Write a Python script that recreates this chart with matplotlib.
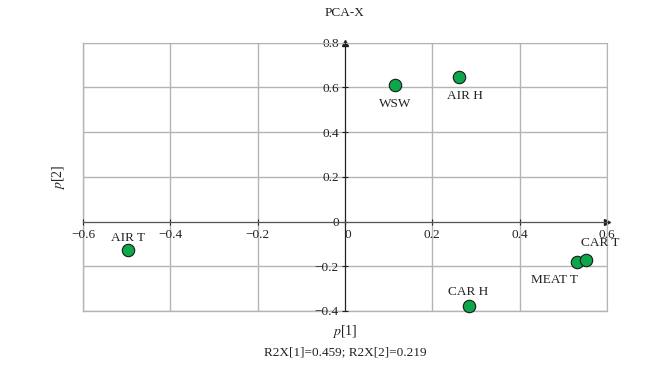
import matplotlib
matplotlib.use("Agg")
import matplotlib.pyplot as plt

plt.rcParams['font.family'] = ['Liberation Serif', 'DejaVu Serif']
plt.rcParams['mathtext.fontset'] = 'stix'

# scores
names = ["WSW", "AIR H", "AIR T", "CAR H", "MEAT T", "CAR T"]
p1 = [0.115, 0.262, -0.496, 0.283, 0.531, 0.553]
p2 = [0.610, 0.646, -0.128, -0.379, -0.180, -0.171]
xticks = [-0.6, -0.4, -0.2, 0, 0.2, 0.4, 0.6]
yticks = [-0.4, -0.2, 0, 0.2, 0.4, 0.6, 0.8]

# label offsets in points (dx, dy, ha, va)
offs = {
    "WSW": (0, -9, "center", "top"),
    "AIR H": (4, -9, "center", "top"),
    "AIR T": (0, 4.5, "center", "bottom"),
    "CAR H": (0, 6, "center", "bottom"),
    "MEAT T": (-16, -9, "center", "top"),
    "CAR T": (10, 8, "center", "bottom"),
}

fig = plt.figure(figsize=(6.67, 3.67), dpi=100)
ax = fig.add_axes([0.1244, 0.1526, 0.7856, 0.7311])
ax.set_xlim(-0.6, 0.6)
ax.set_ylim(-0.4, 0.8)
ax.set_xticks(xticks)
ax.set_yticks(yticks)
ax.set_xticklabels([("%g" % t).replace("-", "\u2212") for t in xticks])
ax.set_yticklabels([("%g" % t).replace("-", "\u2212") for t in yticks])
ax.grid(True, color="#b4b4b4", linewidth=1.0)
ax.set_axisbelow(True)
# outer frame
ax.axhline(-0.4, color="#b4b4b4", linewidth=1.0, clip_on=False, zorder=0.5)
ax.axvline(-0.6, color="#b4b4b4", linewidth=1.0, clip_on=False, zorder=0.5)

for s in ["top", "right"]:
    ax.spines[s].set_color("#b4b4b4")
ax.spines["left"].set_position(("data", 0))
ax.spines["bottom"].set_position(("data", 0))
ax.spines["left"].set_color("#222222")
ax.spines["bottom"].set_color("#555555")
ax.spines["left"].set_zorder(3)
ax.spines["bottom"].set_zorder(3)
ax.tick_params(direction="inout", length=5, width=0.8, labelsize=9.5, pad=2,
               colors="#222222")
ax.tick_params(axis="x", pad=3)
# the "0" on the x axis sits right of the vertical axis
ax.get_xticklabels()[3].set_horizontalalignment("left")

ax.plot(1, 0, ">", color="#222222", markersize=4, transform=ax.get_yaxis_transform(), clip_on=False)
ax.plot(0, 1, "^", color="#222222", markersize=4, transform=ax.get_xaxis_transform(), clip_on=False)

ax.scatter(p1, p2, s=80, color="#0da64a", edgecolor="#1a1a1a", linewidth=0.8, zorder=4, clip_on=False)
for n, x, y in zip(names, p1, p2):
    dx, dy, ha, va = offs[n]
    ax.annotate(n, (x, y), xytext=(dx, dy), textcoords="offset points",
                ha=ha, va=va, fontsize=9.5, color="#222222")

fig.text(0.517, 0.965, "PCA-X", ha="center", va="center", fontsize=9.5, color="#222222")
fig.text(0.517, 0.097, "$p$[1]", ha="center", va="center", fontsize=10, color="#222222")
fig.text(0.517, 0.04, "R2X[1]=0.459; R2X[2]=0.219", ha="center", va="center",
         fontsize=9.5, color="#222222")
fig.text(0.087, 0.517, "$p$[2]", ha="center", va="center", rotation=90, fontsize=10, color="#222222")

fig.savefig("out.png", dpi=100)
